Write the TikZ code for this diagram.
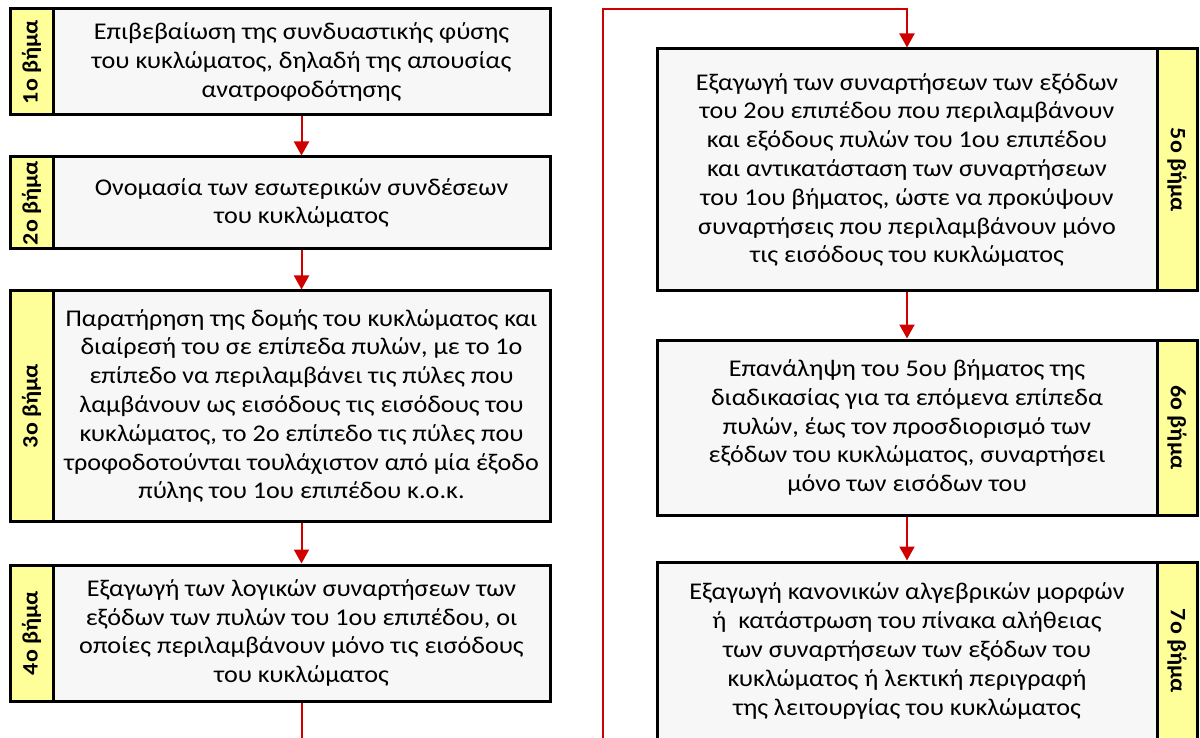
\documentclass[tikz,border=0pt]{standalone}
\usepackage{fontspec}
\setmainfont{Carlito}[FakeStretch=1.09]
\usetikzlibrary{arrows.meta}
\definecolor{boxfill}{HTML}{F7F7F7}
\definecolor{labfill}{HTML}{FFFF99}
\definecolor{arrred}{RGB}{208,0,0}
\tikzset{
  mainbox/.style={draw=black, line width=3pt, fill=boxfill, inner sep=0pt,
    minimum width=#1, align=center, font=\fontsize{24}{28.8}\selectfont},
  labbox/.style={draw=black, line width=3pt, fill=labfill, inner sep=0pt,
    font=\fontsize{22}{24}\selectfont\bfseries},
  arr/.style={draw=arrred, line width=2pt, -{Triangle[width=15pt,length=14pt]}},
}
\begin{document}
\begin{tikzpicture}[x=1pt,y=1pt]
\useasboundingbox (0,0) rectangle (1200,-738);
\clip (0,0) rectangle (1200,-738);
% left column
\node[mainbox=497pt, minimum height=106pt] (b1) at (301.5,-62) {Επιβεβαίωση της συνδυαστικής φύσης\\του κυκλώματος, δηλαδή της απουσίας\\ανατροφοδότησης};
\node[labbox, minimum width=106pt, minimum height=43pt, rotate=90] (l1) at (31.5,-62) {1ο βήμα};
\node[mainbox=497pt, minimum height=92pt] (b2) at (301.5,-203) {Ονομασία των εσωτερικών συνδέσεων\\του κυκλώματος};
\node[labbox, minimum width=92pt, minimum height=43pt, rotate=90] (l2) at (31.5,-203) {2ο βήμα};
\node[mainbox=497pt, minimum height=230pt] (b3) at (301.5,-406) {Παρατήρηση της δομής του κυκλώματος και\\διαίρεσή του σε επίπεδα πυλών, με το 1ο\\επίπεδο να περιλαμβάνει τις πύλες που\\λαμβάνουν ως εισόδους τις εισόδους του\\κυκλώματος, το 2ο επίπεδο τις πύλες που\\τροφοδοτούνται τουλάχιστον από μία έξοδο\\πύλης του 1ου επιπέδου κ.ο.κ.};
\node[labbox, minimum width=230pt, minimum height=43pt, rotate=90] (l3) at (31.5,-406) {3ο βήμα};
\node[mainbox=497pt, minimum height=136pt] (b4) at (301.5,-633) {Εξαγωγή των λογικών συναρτήσεων των\\εξόδων των πυλών του 1ου επιπέδου, οι\\οποίες περιλαμβάνουν μόνο τις εισόδους\\του κυκλώματος};
\node[labbox, minimum width=136pt, minimum height=43pt, rotate=90] (l4) at (31.5,-633) {4ο βήμα};
% right column
\node[mainbox=500pt, minimum height=242pt] (b5) at (907,-170) {Εξαγωγή των συναρτήσεων των εξόδων\\του 2ου επιπέδου που περιλαμβάνουν\\και εξόδους πυλών του 1ου επιπέδου\\και αντικατάσταση των συναρτήσεων\\του 1ου βήματος, ώστε να προκύψουν\\συναρτήσεις που περιλαμβάνουν μόνο\\τις εισόδους του κυκλώματος};
\node[labbox, minimum width=242pt, minimum height=40pt, rotate=-90] (l5) at (1177,-170) {5ο βήμα};
\node[mainbox=500pt, minimum height=175pt] (b6) at (907,-427.5) {Επανάληψη του 5ου βήματος της\\διαδικασίας για τα επόμενα επίπεδα\\πυλών, έως τον προσδιορισμό των\\εξόδων του κυκλώματος, συναρτήσει\\μόνο των εισόδων του};
\node[labbox, minimum width=175pt, minimum height=40pt, rotate=-90] (l6) at (1177,-427.5) {6ο βήμα};
\node[mainbox=500pt, minimum height=178pt] (b7) at (907,-651) {Εξαγωγή κανονικών αλγεβρικών μορφών\\ή\ \ κατάστρωση του πίνακα αλήθειας\\των συναρτήσεων των εξόδων του\\κυκλώματος ή λεκτική περιγραφή\\της λειτουργίας του κυκλώματος};
\node[labbox, minimum width=178pt, minimum height=40pt, rotate=-90] (l7) at (1177,-651) {7ο βήμα};
% connectors
\draw[arr] (b1.south) -- (b2.north);
\draw[arr] (b2.south) -- (b3.north);
\draw[arr] (b3.south) -- (b4.north);
\coordinate (lowl) at (301.5,-760);
\coordinate (lowr) at (603,-760);
\coordinate (topl) at (603,-9);
\draw[arr] (b4.south) -- (lowl) -- (lowr) -- (topl) -| (b5.north);
\draw[arr] (b5.south) -- (b6.north);
\draw[arr] (b6.south) -- (b7.north);
\end{tikzpicture}
\end{document}
